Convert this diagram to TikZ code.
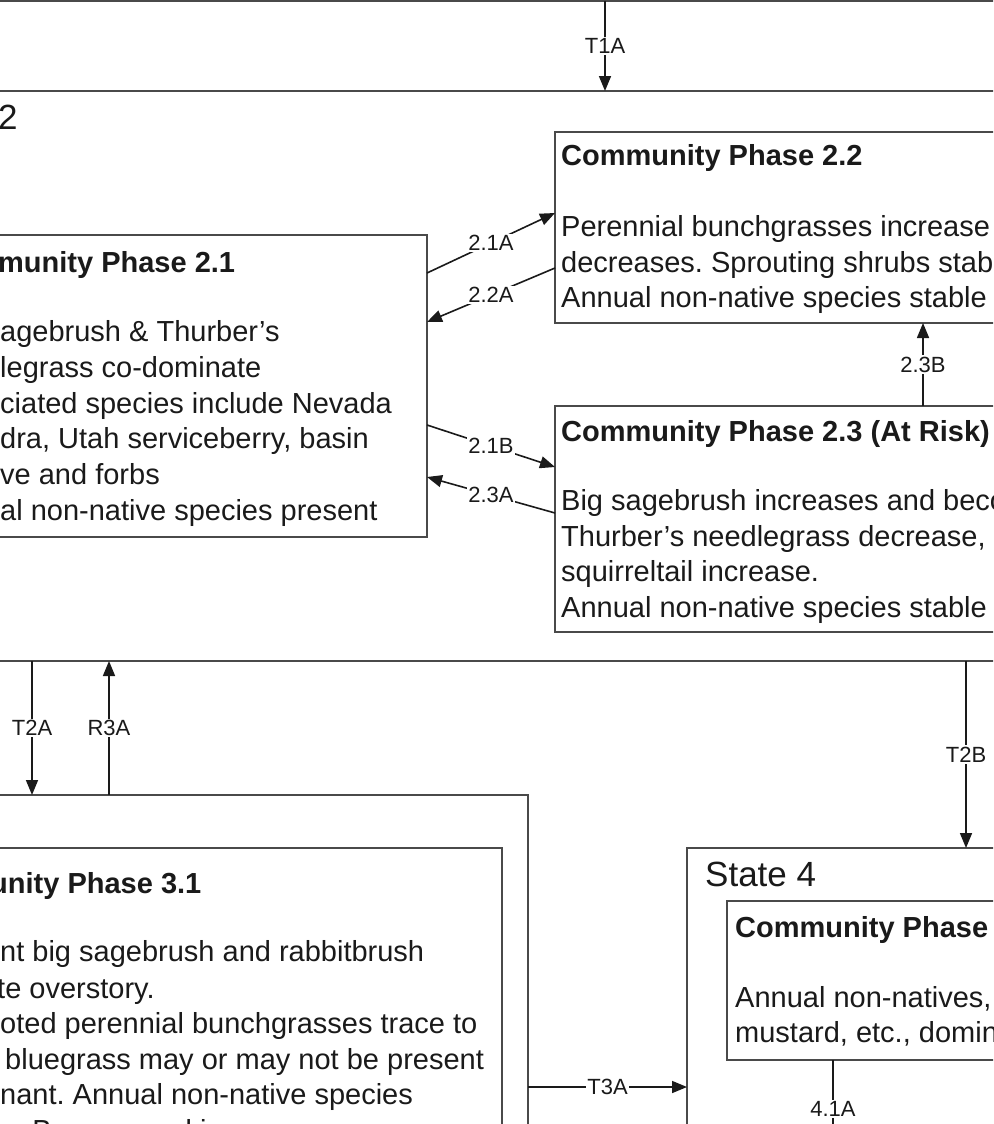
\documentclass[tikz,border=0pt]{standalone}
\usepackage{fontspec}
\setmainfont{Liberation Sans}
\usetikzlibrary{arrows.meta}
\definecolor{boxline}{HTML}{4A4A4A}
\definecolor{ink}{HTML}{1A1A1A}
\frenchspacing
\begin{document}
\begin{tikzpicture}[x=1pt,y=-1pt,
  frame/.style={draw=boxline, line width=2.6pt, inner sep=0pt, outer sep=0pt, anchor=north west, rectangle},
  body/.style={anchor=base west, inner sep=0pt, text=ink, font=\fontsize{29}{35.7}\selectfont},
  ttl/.style={anchor=base west, inner sep=0pt, text=ink, font=\fontsize{29}{35.7}\selectfont\bfseries},
  statelbl/.style={anchor=base west, inner sep=0pt, text=ink, font=\fontsize{35}{42}\selectfont},
  conn/.style={draw=ink, line width=1.6pt},
  arr/.style={conn, -{Triangle[length=15pt,width=12pt]}},
  lbl/.style={fill=white, inner sep=1.5pt, text=ink, font=\fontsize{22}{26}\selectfont}]
\useasboundingbox (0,0) rectangle (993,1124);
\clip (0,0) rectangle (993,1124);
\fill[white] (0,0) rectangle (993,1124);

% state and phase frames
\node[frame, minimum width=1033pt, minimum height=101pt] (s1) at (-20,-100) {};
\node[frame, minimum width=1033pt, minimum height=570pt] (s2) at (-20,91) {};
\node[frame, minimum width=437pt, minimum height=302pt] (p21) at (-10,235) {};
\node[frame, minimum width=458pt, minimum height=191pt] (p22) at (555,132) {};
\node[frame, minimum width=458pt, minimum height=226pt] (p23) at (555,406) {};
\node[frame, minimum width=548pt, minimum height=400pt] (s3) at (-20,795) {};
\node[frame, minimum width=522pt, minimum height=350pt] (p31) at (-20,848) {};
\node[frame, minimum width=400pt, minimum height=400pt] (s4) at (687,848) {};
\node[frame, minimum width=300pt, minimum height=159pt] (p41) at (727,901) {};

% state labels
\node[statelbl] (s2lbl) at (-2,129) {2};
\node[statelbl] (s4lbl) at (705,886) {State 4};

% phase 2.1
\node[ttl] (t21) at (-2,272) {munity Phase 2.1};
\node[body] (b21a) at (0,341) {agebrush \& Thurber’s};
\node[body] (b21b) at (0,377) {legrass co-dominate};
\node[body] (b21c) at (0,413) {ciated species include Nevada};
\node[body] (b21d) at (0,448) {dra, Utah serviceberry, basin};
\node[body] (b21e) at (0,484) {ve and forbs};
\node[body] (b21f) at (0,520) {al non-native species present};

% phase 2.2
\node[ttl] (t22) at (561,165) {Community Phase 2.2};
\node[body] (b22a) at (561,236) {Perennial bunchgrasses increase};
\node[body] (b22b) at (561,272) {decreases. Sprouting shrubs stable};
\node[body] (b22c) at (561,307) {Annual non-native species stable};

% phase 2.3
\node[ttl] (t23) at (561,441) {Community Phase 2.3 (At Risk)};
\node[body] (b23a) at (561,510) {Big sagebrush increases and becomes};
\node[body] (b23b) at (561,546) {Thurber’s needlegrass decrease,};
\node[body] (b23c) at (561,581) {squirreltail increase.};
\node[body] (b23d) at (561,617) {Annual non-native species stable};

% phase 3.1
\node[ttl] (t31) at (-10,893) {unity Phase 3.1};
\node[body] (b31a) at (0,961) {nt big sagebrush and rabbitbrush};
\node[body] (b31b) at (-3,998) {te overstory.};
\node[body] (b31c) at (0,1033) {oted perennial bunchgrasses trace to};
\node[body] (b31d) at (5,1069) {bluegrass may or may not be present};
\node[body] (b31e) at (0,1104) {nant. Annual non-native species};
\node[body] (b31f) at (0,1140) {e. Bare ground increases.};

% phase 4.1
\node[ttl] (t41) at (735,937) {Community Phase};
\node[body] (b41a) at (735,1007) {Annual non-natives,};
\node[body] (b41b) at (735,1042) {mustard, etc., dominate};

% connector end points on the frames
\coordinate (t1s) at (605,1);
\coordinate (t1e) at (605,91);
\coordinate (a21s) at (427,273);
\coordinate (a21e) at (555,213);
\coordinate (a22s) at (555,268);
\coordinate (a22e) at (427,322);
\coordinate (b21s) at (427,425);
\coordinate (b21e) at (555,467);
\coordinate (a23s) at (555,513);
\coordinate (a23e) at (427,477);
\coordinate (b23s) at (923,406);
\coordinate (b23e) at (923,323);
\coordinate (t2as) at (32,661);
\coordinate (t2ae) at (32,795);
\coordinate (r3as) at (109,795);
\coordinate (r3ae) at (109,661);
\coordinate (t2bs) at (966,661);
\coordinate (t2be) at (966,848);
\coordinate (t3as) at (528,1087);
\coordinate (t3ae) at (687,1087);
\coordinate (f41s) at (833,1060);
\coordinate (f41e) at (833,1158);

% connectors
\draw[arr] (t1s) -- node[lbl] {T1A} (t1e);
\draw[arr] (a21s) -- node[lbl] {2.1A} (a21e);
\draw[arr] (a22s) -- node[lbl] {2.2A} (a22e);
\draw[arr] (b21s) -- node[lbl] {2.1B} (b21e);
\draw[arr] (a23s) -- node[lbl] {2.3A} (a23e);
\draw[arr] (b23s) -- node[lbl] {2.3B} (b23e);
\draw[arr] (t2as) -- node[lbl] {T2A} (t2ae);
\draw[arr] (r3as) -- node[lbl] {R3A} (r3ae);
\draw[arr] (t2bs) -- node[lbl] {T2B} (t2be);
\draw[arr] (t3as) -- node[lbl] {T3A} (t3ae);
\draw[conn] (f41s) -- node[lbl] {4.1A} (f41e);
\end{tikzpicture}
\end{document}
